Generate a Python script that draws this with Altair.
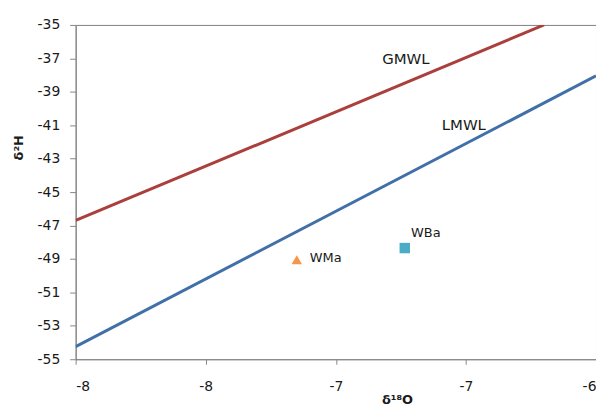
import altair as alt
import pandas as pd

# Meteoric water lines (endpoints)
line_names = ["GMWL", "GMWL", "LMWL", "LMWL"]
line_x = [-8.0, -6.2, -8.0, -6.0]
line_y = [-46.7, -35.0, -54.25, -38.05]

# Sample points
pt_names = ["WMa", "WBa"]
pt_x = [-7.15, -6.735]
pt_y = [-49.05, -48.35]

# Line labels
lab_text = ["GMWL", "LMWL"]
lab_x = [-6.822, -6.593]
lab_y = [-37.02, -41.01]

# Point labels
plab_text = ["WMa", "WBa"]
plab_x = [-7.10, -6.711]
plab_y = [-48.93, -47.44]

x_ticks = [-8, -7.5, -7, -6.5, -6]
y_ticks = [-55, -53, -51, -49, -47, -45, -43, -41, -39, -37, -35]

lines = pd.DataFrame({"name": line_names, "x": line_x, "y": line_y})
pts = pd.DataFrame({"name": pt_names, "x": pt_x, "y": pt_y})
labs = pd.DataFrame({"t": lab_text, "x": lab_x, "y": lab_y})
plabs = pd.DataFrame({"t": plab_text, "x": plab_x, "y": plab_y})

FONT = "DejaVu Sans"
xscale = alt.Scale(domain=[-8, -6], nice=False, zero=False)
yscale = alt.Scale(domain=[-55, -35], nice=False, zero=False)

xaxis = alt.Axis(
    values=x_ticks, title="δ¹⁸O", grid=False, labelOverlap=False, labelBound=False,
    labelExpr="'-' + format(abs(datum.value), '.0f')",
    tickSize=5, labelPadding=15, labelFontSize=14, labelFont=FONT, labelColor="#1a1a1a",
    domainColor="#868686", tickColor="#868686",
    titleFont=FONT, titleFontSize=13, titleFontWeight="bold", titleColor="#1a1a1a",
    titleX=323, titleY=35, titleBaseline="top",
)
yaxis = alt.Axis(
    values=y_ticks, title="δ²H", grid=False, labelOverlap=False, labelBound=False,
    labelExpr="'-' + format(abs(datum.value), 'd')",
    tickSize=6, labelPadding=10, labelFontSize=14, labelFont=FONT, labelColor="#1a1a1a",
    domainColor="#868686", tickColor="#868686",
    titleFont=FONT, titleFontSize=13, titleFontWeight="bold", titleColor="#1a1a1a",
    titleX=-50, titleY=123,
)

X = alt.X("x:Q", scale=xscale, axis=xaxis)
Y = alt.Y("y:Q", scale=yscale, axis=yaxis)

line_layer = alt.Chart(lines).mark_line(strokeWidth=3, clip=True).encode(
    x=X, y=Y,
    color=alt.Color("name:N", scale=alt.Scale(domain=["GMWL", "LMWL"], range=["#AA3F3C", "#4170A9"]), legend=None),
    detail="name:N",
)

pt_layer = alt.Chart(pts).mark_point(filled=True, opacity=1, size=110).encode(
    x=X, y=Y,
    shape=alt.Shape("name:N", scale=alt.Scale(domain=["WMa", "WBa"], range=["triangle-up", "square"]), legend=None),
    color=alt.Color("name:N", scale=alt.Scale(domain=["WMa", "WBa"], range=["#F79646", "#4BACC6"]), legend=None),
)

lab_layer = alt.Chart(labs).mark_text(align="left", baseline="middle", font=FONT, fontSize=15, color="#1a1a1a").encode(
    x=X, y=Y, text="t:N"
)
plab_layer = alt.Chart(plabs).mark_text(align="left", baseline="middle", font=FONT, fontSize=13, color="#1a1a1a").encode(
    x=X, y=Y, text="t:N"
)

chart = alt.layer(line_layer, pt_layer, lab_layer, plab_layer).resolve_scale(
    color="independent", shape="independent"
).properties(
    width=523, height=336,
    autosize=alt.AutoSizeParams(type="none"),
    padding={"left": 68, "top": 16, "right": 0, "bottom": 46},
    background="white",
).configure_view(stroke="#808080", strokeWidth=1)

chart.save("out.html", embed_options={"renderer": "svg", "actions": False})
